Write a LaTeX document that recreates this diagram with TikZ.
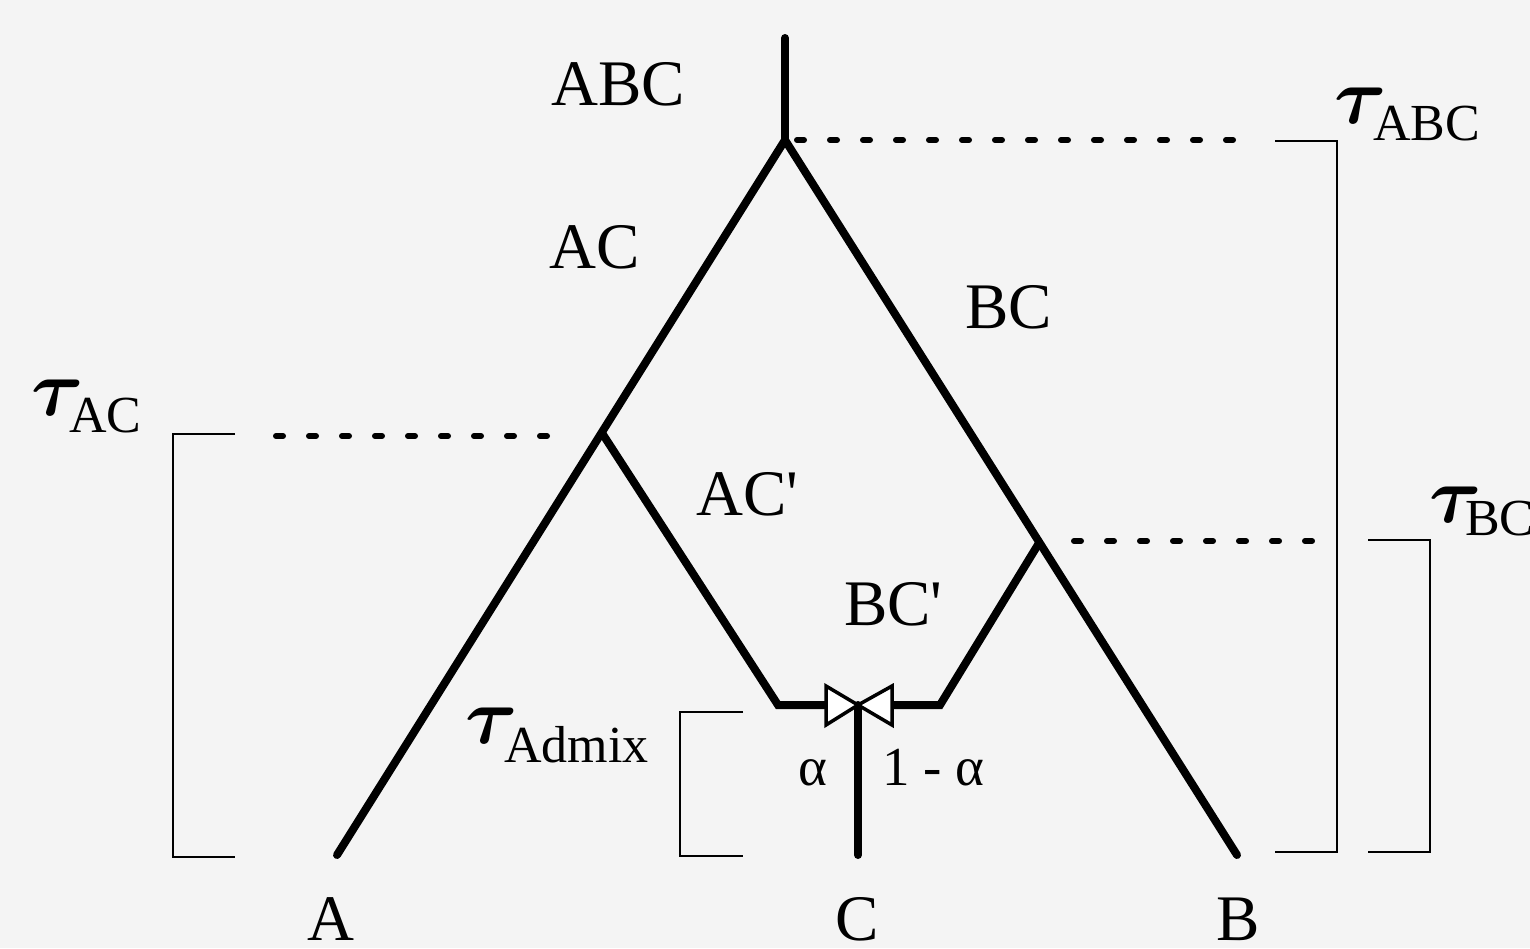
\documentclass[tikz,border=0pt]{standalone}
\usepackage{fix-cm}
\usepackage{amsmath}
\usepackage{fontspec}
\setmainfont{Liberation Serif}
\newfontfamily\rawfont{Liberation Serif}[Ligatures=ResetAll]
\begin{document}
\begin{tikzpicture}[x=1pt,y=-1pt,
  branch/.style={line width=8pt,line cap=round,line join=miter},
  dots/.style={line width=6pt,line cap=round,dash pattern=on 7pt off 26pt},
  brack/.style={line width=2pt},
  tri/.style={draw,fill=white,line width=3.5pt,line join=miter},
  lab/.style={anchor=base west,inner sep=0pt,font=\fontsize{65}{70}\selectfont},
  labc/.style={anchor=base,inner sep=0pt,font=\fontsize{65}{70}\selectfont},
  taug/.style={anchor=base west,inner sep=0pt,font=\fontsize{80}{84}\selectfont},
  tsub/.style={anchor=base west,inner sep=0pt,font=\fontsize{52}{56}\selectfont},
  small/.style={anchor=base west,inner sep=0pt,font=\fontsize{55}{60}\selectfont}]
\fill[fill={rgb,255:red,244;green,244;blue,244}] (0,0) rectangle (1530,948);
\useasboundingbox (0,0) rectangle (1530,948);
% coordinates
\coordinate (top) at (785,38);
\coordinate (root) at (785,140);
\coordinate (a) at (337,855);
\coordinate (b) at (1237,855);
\coordinate (acj) at (602,433);
\coordinate (bcj) at (1039,543);
\coordinate (acb) at (778,705);
\coordinate (bcb) at (940,705);
\coordinate (mid) at (858,705);
\coordinate (c) at (858,855);
\coordinate (lt) at (826,705);
\coordinate (rt) at (892,705);
% tree
\draw[branch] (top) -- (root);
\draw[branch] (a) -- (root) -- (b);
\draw[branch,line cap=butt] (acj) -- (acb) -- (lt);
\draw[branch,line cap=butt] (bcj) -- (bcb) -- (rt);
\draw[branch,line cap=round] (mid) -- (c);
% bowtie
\filldraw[tri] (826,686) -- (826,725) -- (mid) -- cycle;
\filldraw[tri] (892,686) -- (892,725) -- (mid) -- cycle;
% dotted lines
\coordinate (d1s) at (797,140); \coordinate (d1e) at (1240,140);
\coordinate (d2s) at (276,436); \coordinate (d2e) at (560,436);
\coordinate (d3s) at (1074,541); \coordinate (d3e) at (1320,541);
\draw[dots] (d1s) -- (d1e);
\draw[dots] (d2s) -- (d2e);
\draw[dots] (d3s) -- (d3e);
% brackets
\draw[brack] (1275,141) -| (1337,852) -- (1275,852);
\draw[brack] (1368,540) -| (1430,852) -- (1368,852);
\draw[brack] (235,434) -| (173,857) -- (235,857);
\draw[brack] (743,712) -| (680,856) -- (743,856);
% labels
\node[lab] (lABC) at (551,105) {ABC};
\node[lab] (lAC) at (549,268) {AC};
\node[lab] (lBC) at (965,328) {BC};
\node[lab] (lACp) at (696,515) {\rawfont AC'};
\node[lab] (lBCp) at (844,625) {\rawfont BC'};
\node[labc] (lA) at (331,940) {A};
\node[labc] (lC) at (857,940) {C};
\node[labc] (lB) at (1238,940) {B};
\node[small] (alpha) at (798,785) {α};
\node[small] (oma) at (882,785) {1 - α};
% tau labels
\node[taug] (t1) at (1334,123) {$\boldsymbol{\tau}$};
\node[tsub] (s1) at (1373,140) {ABC};
\node[taug] (t2) at (31,415) {$\boldsymbol{\tau}$};
\node[tsub] (s2) at (69,432) {AC};
\node[taug] (t3) at (465,743) {$\boldsymbol{\tau}$};
\node[tsub] (s3) at (504,762) {Admix};
\node[taug] (t4) at (1429,522) {$\boldsymbol{\tau}$};
\node[tsub] (s4) at (1465,535) {BC};
\end{tikzpicture}
\end{document}
